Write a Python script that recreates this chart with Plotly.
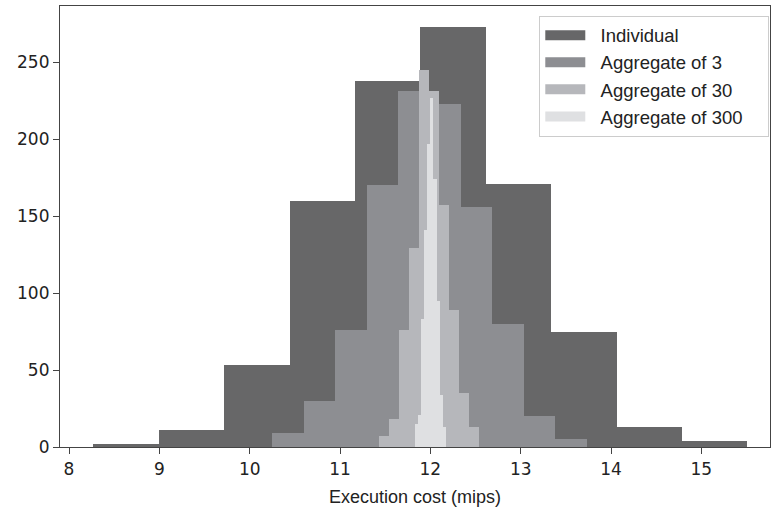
import plotly.graph_objects as go

# Histogram data (10 bins per series)
series_names = ["Individual", "Aggregate of 3", "Aggregate of 30", "Aggregate of 300"]
bin_lo = [8.27, 10.25, 11.43, 11.83]
bin_hi = [15.51, 13.73, 12.54, 12.17]
counts_individual = [2, 11, 53, 160, 238, 273, 171, 75, 13, 4]
counts_agg3 = [9, 30, 76, 170, 231, 223, 156, 80, 20, 5]
counts_agg30 = [7, 18, 76, 129, 245, 231, 157, 89, 35, 13]
counts_agg300 = [15, 21, 83, 141, 197, 227, 174, 95, 34, 13]
all_counts = [counts_individual, counts_agg3, counts_agg30, counts_agg300]
colors = ["#676768", "#8d8e92", "#b6b7bb", "#dfe0e2"]

x_ticks = [8, 9, 10, 11, 12, 13, 14, 15]
y_ticks = [0, 50, 100, 150, 200, 250]

fig = go.Figure()
for name, lo, hi, cnt, col in zip(series_names, bin_lo, bin_hi, all_counts, colors):
    n = len(cnt)
    w = (hi - lo) / n
    centers = [lo + w * (i + 0.5) for i in range(n)]
    fig.add_trace(go.Bar(
        x=centers, y=cnt, width=[w] * n, name=name, showlegend=False,
        marker=dict(color=col, line=dict(width=0)), opacity=1,
    ))
# legend entries with wide patch swatches (nbsp adds spacing around the label)
for name, col in zip(series_names, colors):
    fig.add_trace(go.Scatter(
        x=[None], y=[None], mode="lines", name="\u00a0\u00a0" + name + "\u00a0\u00a0\u00a0\u00a0",
        line=dict(color=col, width=14), showlegend=True,
    ))

tick_font = dict(family="DejaVu Sans, sans-serif", size=17, color="#222222")
fig.update_layout(
    width=771, height=511,
    margin=dict(l=60, r=1, t=6, b=64),
    barmode="overlay", bargap=0,
    plot_bgcolor="white", paper_bgcolor="white",
    font=dict(family="Liberation Sans, Arial, sans-serif", size=15, color="#222222"),
    showlegend=True,
    legend=dict(
        x=0.999, xanchor="right", y=0.978, yanchor="top",
        bgcolor="white", bordercolor="#cccccc", borderwidth=1,
        font=dict(family="Liberation Sans, Arial, sans-serif", size=18.5, color="#222222"),
        itemwidth=40,
    ),
)
fig.update_xaxes(
    range=[7.9, 15.76], tickvals=x_ticks, ticktext=[str(t) for t in x_ticks],
    showline=True, linecolor="#444444", linewidth=1.2, mirror=True,
    ticks="outside", ticklen=6, tickcolor="#444444", showgrid=False, zeroline=False,
    tickfont=tick_font,
    title=dict(text="Execution cost (mips)", font=dict(family="Liberation Sans, Arial, sans-serif", size=18, color="#222222"), standoff=12),
)
fig.update_yaxes(
    range=[0, 286.5], tickvals=y_ticks,
    showline=True, linecolor="#444444", linewidth=1.2, mirror=True,
    ticks="outside", ticklen=6, tickcolor="#444444", showgrid=False, zeroline=False,
    tickfont=tick_font,
)
fig.write_html("out.html")
